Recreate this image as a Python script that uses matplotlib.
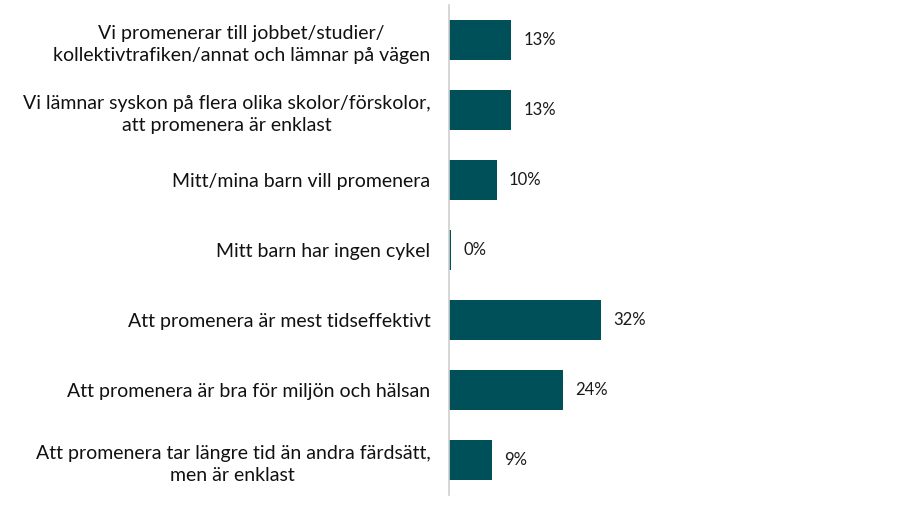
import matplotlib
matplotlib.use('Agg')
import matplotlib.pyplot as plt

categories = [
    'Vi promenerar till jobbet/studier/\nkollektivtrafiken/annat och lämnar på vägen',
    'Vi lämnar syskon på flera olika skolor/förskolor,\natt promenera är enklast',
    'Mitt/mina barn vill promenera',
    'Mitt barn har ingen cykel',
    'Att promenera är mest tidseffektivt',
    'Att promenera är bra för miljön och hälsan',
    'Att promenera tar längre tid än andra färdsätt,\nmen är enklast',
]
values = [13, 13, 10, 0, 32, 24, 9]
labels = ['13%', '13%', '10%', '0%', '32%', '24%', '9%']

BAR_COLOR = '#00505A'
plt.rcParams['font.family'] = ['Lato', 'DejaVu Sans']

fig = plt.figure(figsize=(9, 5.12), dpi=100)
ax = fig.add_axes([449/900, 1 - 495/512, 411/900, 490/512])

ypos = list(range(len(values)))
# tiny visible bar for 0%
widths = [v if v > 0 else 0.4 for v in values]
ax.barh(ypos, widths, height=0.56, color=BAR_COLOR)
ax.set_ylim(len(values) - 0.5, -0.5)
ax.set_xlim(0, 86.5)

for y, v, lab in zip(ypos, widths, labels):
    ax.text(v + 2.6, y, lab, va='center', ha='left', fontsize=12, color='#1a1a1a')

ax.set_yticks(ypos)
ax.set_yticklabels(categories, fontsize=14, linespacing=1.42, color='#111111',
                   multialignment='center')
ax.tick_params(axis='y', length=0, pad=13.5)
ax.set_xticks([])
for s in ['top', 'right', 'bottom']:
    ax.spines[s].set_visible(False)
ax.spines['left'].set_color('#D0D0D0')
ax.spines['left'].set_linewidth(1.2)

fig.savefig('out.png', dpi=100)
